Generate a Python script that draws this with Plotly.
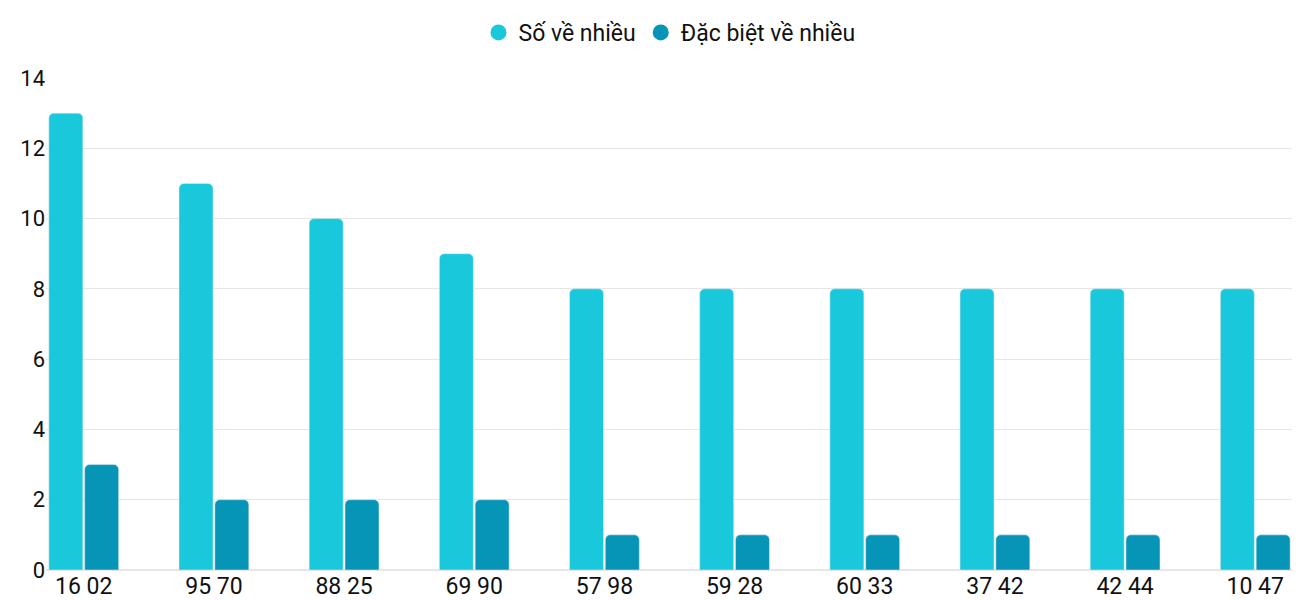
import plotly.graph_objects as go

categories = ["16 02", "95 70", "88 25", "69 90", "57 98", "59 28", "60 33", "37 42", "42 44", "10 47"]
so_ve_nhieu = [13, 11, 10, 9, 8, 8, 8, 8, 8, 8]
dac_biet = [3, 2, 2, 2, 1, 1, 1, 1, 1, 1]
c1, c2 = "#1ac8db", "#0795b7"

fig = go.Figure()
fig.add_bar(x=categories, y=so_ve_nhieu, name="Số về nhiều", marker_color=c1, showlegend=False)
fig.add_bar(x=categories, y=dac_biet, name="Đặc biệt về nhiều", marker_color=c2, showlegend=False)
for nm, c in [("Số về nhiều", c1), ("Đặc biệt về nhiều", c2)]:
    fig.add_scatter(x=[None], y=[None], mode="markers", name=nm,
                    marker=dict(symbol="circle", size=26, color=c))
fig.update_layout(
    width=1285, height=592, barmode="group", bargap=0.45, bargroupgap=0.05,
    barcornerradius=5, plot_bgcolor="white", paper_bgcolor="white",
    font=dict(family="Roboto", size=22, color="#111"),
    margin=dict(l=38, r=0, t=70, b=30),
    legend=dict(orientation="h", x=0.5, xanchor="center", y=0.995, yanchor="top",
                yref="container", font=dict(size=23)),
    xaxis=dict(range=[-0.29, 9.29], showgrid=False, showline=False, ticks="", tickfont=dict(size=23)),
    yaxis=dict(range=[0, 14], dtick=2, gridcolor="#e6e6e6", zeroline=True, zerolinecolor="#e6e6e6",
               ticks="", tickfont=dict(size=22)),
)
fig.write_html("out.html")
